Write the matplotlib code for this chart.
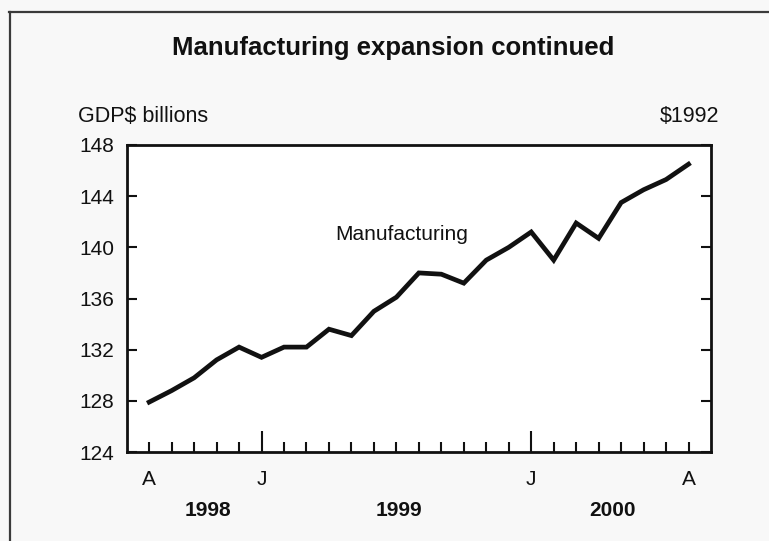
import matplotlib
matplotlib.use("Agg")
import matplotlib.pyplot as plt
from matplotlib.lines import Line2D

plt.rcParams['font.family'] = ['Liberation Sans', 'DejaVu Sans']

# Monthly manufacturing GDP, $1992 billions, Aug 1998 - Aug 2000
months = ["A", "S", "O", "N", "D",
          "J", "F", "M", "A", "M", "J", "J", "A", "S", "O", "N", "D",
          "J", "F", "M", "A", "M", "J", "J", "A"]
manufacturing = [127.9, 128.8, 129.8, 131.2, 132.2,
                 131.4, 132.2, 132.2, 133.6, 133.1, 135.0, 136.1, 138.0,
                 137.9, 137.2, 139.0, 140.0, 141.2,
                 139.0, 141.9, 140.7, 143.5, 144.5, 145.3, 146.5]
shown_tick_labels = {0: "A", 5: "J", 17: "J", 24: "A"}
major_ticks = [5, 17]
years = ["1998", "1999", "2000"]
year_x = [2.6, 11.1, 20.6]
yticks = [124, 128, 132, 136, 140, 144, 148]

W, H = 769, 541
fig = plt.figure(figsize=(W / 100, H / 100), dpi=100, facecolor='#f8f8f8')

# outer frame lines (top and left)
fig.add_artist(Line2D([10 / W, 10 / W], [0, 1 - 11.5 / H], color='#3a3a3a', lw=1.6))
fig.add_artist(Line2D([9 / W, 1], [1 - 11.7 / H, 1 - 11.7 / H], color='#3a3a3a', lw=1.6))

left, right, top, bottom = 126.7, 711, 145, 452
ax = fig.add_axes([left / W, (H - bottom) / H, (right - left) / W, (bottom - top) / H])
ax.set_facecolor('white')

x = list(range(len(manufacturing)))
ax.plot(x, manufacturing, color='#111111', lw=3.4, solid_joinstyle='miter')

ax.set_xlim(-1, 25)
ax.set_ylim(124, 148)

for s in ax.spines.values():
    s.set_linewidth(2.0)
    s.set_color('#111111')

ax.set_yticks(yticks)
ax.set_yticklabels([str(v) for v in yticks])
ax.tick_params(axis='y', direction='in', length=7, width=1.5, labelsize=15,
               pad=9, right=True, labelright=False, colors='#111111')

minor = [i for i in x if i not in major_ticks]
ax.set_xticks(major_ticks)
ax.set_xticklabels(["", ""])
ax.set_xticks(minor, minor=True)
ax.set_xticklabels(["" for _ in minor], minor=True)
ax.tick_params(axis='x', which='major', direction='in', length=15, width=1.5, color='#111111')
ax.tick_params(axis='x', which='minor', direction='in', length=7, width=1.5, color='#111111')

for i, lab in shown_tick_labels.items():
    ax.text(i, -0.09, lab, transform=ax.get_xaxis_transform(), ha='center', va='center',
            fontsize=15, color='#111111')

for yx, yl in zip(year_x, years):
    ax.text(yx, -0.192, yl, transform=ax.get_xaxis_transform(), ha='center', va='center',
            fontsize=15, fontweight='bold', color='#111111')

ax.text(8.27, 141.0, "Manufacturing", ha='left', va='center', fontsize=15, color='#111111')

fig.text(393 / W, 1 - 55 / H, "Manufacturing expansion continued", ha='center',
         va='baseline', fontsize=18.5, fontweight='bold', color='#111111')
fig.text(78 / W, 1 - 122 / H, "GDP$ billions", ha='left', va='baseline', fontsize=15.5,
         color='#111111')
fig.text(719 / W, 1 - 122 / H, "$1992", ha='right', va='baseline', fontsize=15.5,
         color='#111111')

fig.savefig("out.png", dpi=100, facecolor=fig.get_facecolor())
